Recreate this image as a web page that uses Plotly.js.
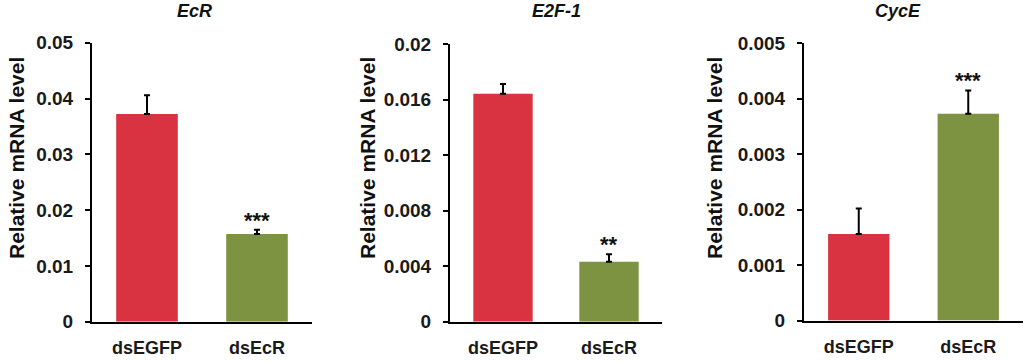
<!DOCTYPE html>
<html>
<head>
<meta charset="utf-8">
<script src="https://cdn.plot.ly/plotly-3.0.1.min.js"></script>
<style>html,body{margin:0;padding:0;background:#fff;}#chart{width:1024px;height:361px;}</style>
</head>
<body>
<div id="chart"></div>
<script>
// ---- data ----
var categories = ['dsEGFP', 'dsEcR'];
var genes = ['EcR', 'E2F-1', 'CycE'];
var ecrMean = [0.0372, 0.0157];
var ecrErr = [0.0034, 0.0008];
var e2fMean = [0.01644, 0.00433];
var e2fErr = [0.0007, 0.00053];
var cycMean = [0.00156, 0.00373];
var cycErr = [0.00046, 0.00042];
var ecrSig = ['', '***'];
var e2fSig = ['', '**'];
var cycSig = ['', '***'];
var ecrTicks = [0, 0.01, 0.02, 0.03, 0.04, 0.05];
var ecrTickText = ['0', '0.01', '0.02', '0.03', '0.04', '0.05'];
var e2fTicks = [0, 0.004, 0.008, 0.012, 0.016, 0.02];
var e2fTickText = ['0', '0.004', '0.008', '0.012', '0.016', '0.02'];
var cycTicks = [0, 0.001, 0.002, 0.003, 0.004, 0.005];
var cycTickText = ['0', '0.001', '0.002', '0.003', '0.004', '0.005'];
var yTitle = 'Relative mRNA level';

// ---- styling / layout ----
var W = 1024, H = 361;
var barColors = ['#D93240', '#7E9342'];
var FONT = 'Liberation Sans, Arial, sans-serif';
var panels = [
  {mean: ecrMean, err: ecrErr, sig: ecrSig, ticks: ecrTicks, tt: ecrTickText, max: 0.05,
   x0: 92, x1: 312, top: 42.7, bot: 321.7, titleX: 194, yTitleX: 16},
  {mean: e2fMean, err: e2fErr, sig: e2fSig, ticks: e2fTicks, tt: e2fTickText, max: 0.02,
   x0: 450, x1: 662, top: 44.3, bot: 321.7, titleX: 556, yTitleX: 367},
  {mean: cycMean, err: cycErr, sig: cycSig, ticks: cycTicks, tt: cycTickText, max: 0.005,
   x0: 804, x1: 1023, top: 43.3, bot: 320.5, titleX: 898, yTitleX: 714}
];

var data = [];
var layout = {
  width: W, height: H,
  margin: {l: 0, r: 0, t: 0, b: 0},
  paper_bgcolor: '#fff', plot_bgcolor: 'rgba(0,0,0,0)',
  showlegend: false,
  bargap: 0.44,
  annotations: []
};

panels.forEach(function (p, i) {
  var n = i + 1;
  var xa = 'x' + (n === 1 ? '' : n), ya = 'y' + (n === 1 ? '' : n);
  data.push({
    type: 'bar', x: categories, y: p.mean,
    xaxis: xa, yaxis: ya,
    marker: {color: barColors},
    error_y: {type: 'data', symmetric: false, array: p.err,
              arrayminus: p.err.map(function () { return 0; }),
              color: '#000', thickness: 2, width: 3},
    hoverinfo: 'none'
  });
  var xKey = 'xaxis' + (n === 1 ? '' : n), yKey = 'yaxis' + (n === 1 ? '' : n);
  layout[xKey] = {
    domain: [p.x0 / W, p.x1 / W], anchor: ya,
    range: [-0.5, 1.5], type: 'category',
    showline: true, linecolor: '#000', linewidth: 2,
    ticks: '', showgrid: false, zeroline: false,
    tickfont: {family: FONT, size: 18, color: '#1a1a1a', weight: 700},
    ticklabelstandoff: 9, fixedrange: true
  };
  layout[yKey] = {
    domain: [1 - p.bot / H, 1 - p.top / H], anchor: xa,
    range: [0, p.max],
    tickvals: p.ticks, ticktext: p.tt,
    showline: true, linecolor: '#000', linewidth: 2,
    ticks: 'outside', ticklen: 5, tickwidth: 2, tickcolor: '#000',
    showgrid: false, zeroline: false,
    tickfont: {family: FONT, size: 19, color: '#1a1a1a', weight: 700},
    ticklabelstandoff: 8,
    fixedrange: true
  };
  layout.annotations.push({
    xref: 'paper', yref: 'paper', x: p.titleX / W, y: 1 - 11 / H,
    text: '<b><i>' + genes[i] + '</i></b>', showarrow: false,
    font: {family: FONT, size: 18, color: '#111'}, xanchor: 'center', yanchor: 'middle'
  });
  layout.annotations.push({
    xref: 'paper', yref: 'paper', x: p.yTitleX / W, y: 1 - 158 / H,
    text: '<b>' + yTitle + '</b>', showarrow: false, textangle: -90,
    font: {family: FONT, size: 21, color: '#111'}, xanchor: 'center', yanchor: 'middle'
  });
  p.sig.forEach(function (s, j) {
    if (!s) return;
    layout.annotations.push({
      xref: xa, yref: ya, x: categories[j], y: p.mean[j] + p.err[j],
      text: '<b>' + s + '</b>', showarrow: false, yanchor: 'bottom', yshift: -5,
      font: {family: FONT, size: 22, color: '#111'}
    });
  });
});

Plotly.newPlot('chart', data, layout, {displayModeBar: false, staticPlot: true});
</script>
</body>
</html>
